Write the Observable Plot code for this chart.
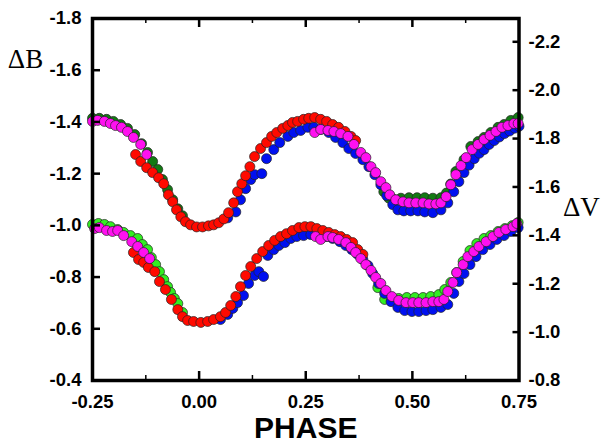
<!DOCTYPE html>
<html>
<head>
<meta charset="utf-8">
<script src="https://cdn.jsdelivr.net/npm/d3@7"></script>
<script src="https://cdn.jsdelivr.net/npm/@observablehq/plot@0.6"></script>
<style>
  html, body { margin: 0; padding: 0; background: #fff; }
</style>
</head>
<body>
<div id="chart"></div>
<script>
// ---------- Tick values ----------
const leftTicks = [-1.8, -1.6, -1.4, -1.2, -1.0, -0.8, -0.6, -0.4];
const rightTicks = [-2.2, -2.0, -1.8, -1.6, -1.4, -1.2, -1.0, -0.8];
const xLabelTicks = [-0.25, 0.00, 0.25, 0.50, 0.75];
const xMajorTicks = [0.00, 0.25, 0.50];
const xMinorTicks = [-0.125, 0.125, 0.375, 0.625];

// ---------- ΔB light curve (left axis) ----------
const phaseB_green = [-0.25,-0.234,-0.217,-0.201,-0.184,-0.168,-0.151,-0.135,-0.121,-0.109,-0.097,-0.086,-0.074,-0.062,-0.050,-0.039,
  0.433,0.445,0.457,0.473,0.492,0.511,0.529,0.548,0.567,0.580,0.590,0.602,0.621,0.637,0.654,0.668,0.684,0.701,0.715,0.731,0.748];
const magB_green = [-1.414,-1.414,-1.410,-1.402,-1.390,-1.375,-1.351,-1.316,-1.282,-1.247,-1.216,-1.177,-1.138,-1.099,-1.064,-1.037,
  -1.130,-1.105,-1.100,-1.105,-1.107,-1.107,-1.107,-1.105,-1.107,-1.125,-1.160,-1.208,-1.254,-1.305,-1.324,-1.340,-1.359,-1.379,-1.390,-1.406,-1.417];

const phaseB_blue = [0.067,0.086,0.097,0.109,0.121,0.130,0.147,0.158,0.175,0.189,0.208,0.222,0.238,0.255,0.269,0.285,0.304,0.320,0.337,0.351,0.367,0.384,0.398,0.412,0.426,0.440,0.454,0.466,0.480,0.496,0.513,0.529,0.548,0.567,
  0.583,0.597,0.609,0.621,0.633,0.645,0.657,0.668,0.680,0.692,0.704,0.716,0.728,0.740,0.750];
const magB_blue = [-1.029,-1.052,-1.099,-1.142,-1.177,-1.196,-1.200,-1.258,-1.293,-1.320,-1.344,-1.359,-1.367,-1.379,-1.379,-1.371,-1.359,-1.340,-1.320,-1.297,-1.278,-1.254,-1.227,-1.196,-1.157,-1.115,-1.080,-1.060,-1.056,-1.056,-1.056,-1.052,-1.049,-1.060,
  -1.087,-1.130,-1.169,-1.204,-1.233,-1.258,-1.279,-1.293,-1.313,-1.328,-1.342,-1.355,-1.365,-1.376,-1.383];

const phaseB_red = [-0.149,-0.137,-0.123,-0.109,-0.095,-0.083,-0.072,-0.062,-0.053,-0.043,-0.032,-0.020,-0.006,0.008,0.022,0.034,0.046,0.058,0.069,0.081,0.090,0.100,0.109,0.119,0.130,0.144,0.158,0.170,0.182,0.196,0.208,0.219,0.231,0.245,0.257,0.271,0.285,0.299,0.313,0.327,0.342,0.356,0.367];
const magB_red = [-1.274,-1.247,-1.223,-1.204,-1.184,-1.161,-1.118,-1.091,-1.060,-1.033,-1.014,-1.002,-0.994,-0.994,-0.998,-1.002,-1.010,-1.025,-1.049,-1.087,-1.130,-1.161,-1.192,-1.227,-1.266,-1.297,-1.320,-1.344,-1.359,-1.375,-1.386,-1.398,-1.402,-1.410,-1.414,-1.417,-1.410,-1.402,-1.390,-1.379,-1.363,-1.344,-1.328];

const phaseB_magenta = [-0.25,-0.238,-0.222,-0.208,-0.196,-0.182,-0.168,-0.154,-0.137,-0.123,
  0.271,0.285,0.302,0.316,0.332,0.349,0.363,0.379,0.391,0.403,0.414,0.426,0.438,0.447,0.461,0.478,0.492,0.508,0.525,0.539,0.555,0.567,0.579,0.590,0.602,0.614,0.626,0.640,0.654,0.668,0.682,0.696,0.710,0.724,0.738,0.748];
const magB_magenta = [-1.402,-1.406,-1.402,-1.394,-1.386,-1.379,-1.363,-1.340,-1.313,-1.274,
  -1.359,-1.371,-1.367,-1.363,-1.355,-1.344,-1.313,-1.282,-1.262,-1.227,-1.204,-1.169,-1.146,-1.118,-1.099,-1.091,-1.087,-1.087,-1.087,-1.083,-1.083,-1.087,-1.111,-1.157,-1.196,-1.231,-1.262,-1.293,-1.313,-1.332,-1.348,-1.363,-1.379,-1.386,-1.394,-1.394];

// ---------- ΔV light curve (right axis) ----------
const phaseV_green = [-0.25,-0.236,-0.222,-0.208,-0.191,-0.177,-0.161,-0.144,-0.133,-0.121,-0.112,-0.102,-0.093,-0.083,-0.074,-0.067,-0.058,-0.050,-0.039,
  0.419,0.435,0.452,0.468,0.487,0.506,0.525,0.543,0.562,0.576,0.590,0.604,0.619,0.635,0.651,0.668,0.684,0.701,0.717,0.734,0.748];
const magV_green = [-1.445,-1.449,-1.445,-1.436,-1.424,-1.412,-1.399,-1.387,-1.362,-1.341,-1.308,-1.279,-1.250,-1.217,-1.188,-1.164,-1.139,-1.118,-1.081,
  -1.184,-1.135,-1.131,-1.139,-1.143,-1.143,-1.143,-1.147,-1.155,-1.176,-1.205,-1.246,-1.292,-1.337,-1.366,-1.387,-1.399,-1.416,-1.428,-1.440,-1.453];

const phaseV_blue = [0.050,0.067,0.079,0.090,0.104,0.116,0.130,0.140,0.151,0.161,0.175,0.187,0.201,0.215,0.229,0.245,0.262,0.281,0.297,0.313,0.330,0.344,0.358,0.372,0.384,0.396,0.407,0.421,0.435,0.450,0.466,0.482,0.499,0.515,0.532,0.548,0.567,0.583,0.597,0.609,0.621,0.635,0.649,0.665,0.682,0.698,0.715,0.731,0.748];
const magV_blue = [-1.052,-1.073,-1.098,-1.122,-1.151,-1.201,-1.234,-1.250,-1.230,-1.317,-1.341,-1.358,-1.370,-1.387,-1.395,-1.399,-1.403,-1.399,-1.395,-1.387,-1.374,-1.358,-1.341,-1.321,-1.300,-1.275,-1.242,-1.201,-1.160,-1.126,-1.102,-1.089,-1.085,-1.085,-1.089,-1.093,-1.102,-1.114,-1.160,-1.209,-1.242,-1.279,-1.312,-1.341,-1.362,-1.383,-1.399,-1.416,-1.432];

const phaseV_red = [-0.154,-0.142,-0.130,-0.119,-0.104,-0.093,-0.079,-0.065,-0.050,-0.039,-0.027,-0.013,0.004,0.020,0.034,0.050,0.062,0.074,0.086,0.097,0.109,0.121,0.135,0.149,0.163,0.177,0.191,0.205,0.219,0.234,0.248,0.262,0.276,0.290,0.304,0.318,0.332,0.346,0.360,0.372,0.384];
const magV_red = [-1.329,-1.300,-1.288,-1.267,-1.250,-1.209,-1.176,-1.135,-1.093,-1.064,-1.048,-1.044,-1.040,-1.044,-1.052,-1.064,-1.081,-1.110,-1.147,-1.188,-1.234,-1.271,-1.304,-1.333,-1.358,-1.379,-1.395,-1.407,-1.420,-1.432,-1.436,-1.436,-1.428,-1.420,-1.412,-1.403,-1.395,-1.383,-1.370,-1.341,-1.321];

const phaseV_magenta = [-0.245,-0.234,-0.217,-0.203,-0.191,-0.177,-0.158,-0.144,-0.130,-0.116,
  0.273,0.285,0.302,0.313,0.327,0.344,0.356,0.367,0.379,0.391,0.403,0.414,0.426,0.438,0.452,0.468,0.485,0.501,0.515,0.532,0.548,0.562,0.574,0.583,0.595,0.604,0.619,0.630,0.644,0.656,0.673,0.689,0.703,0.719,0.736,0.745];
const magV_magenta = [-1.428,-1.432,-1.420,-1.416,-1.420,-1.399,-1.374,-1.354,-1.329,-1.304,
  -1.395,-1.383,-1.395,-1.391,-1.383,-1.370,-1.350,-1.329,-1.304,-1.279,-1.255,-1.226,-1.201,-1.172,-1.147,-1.131,-1.122,-1.122,-1.122,-1.122,-1.126,-1.126,-1.135,-1.168,-1.205,-1.246,-1.279,-1.312,-1.333,-1.354,-1.374,-1.395,-1.412,-1.424,-1.436,-1.449];

// ---------- Build tables ----------
const rows = (ph, mg) => ph.map((p, i) => ({phase: p, mag: mg[i]}));

// Right (ΔV) axis relation to the left (ΔB) axis: linear, -0.8 ↔ -0.4 at bottom
const leftDomain = [-0.4, -1.8];
const rightDomain = [-0.8, -2.2963];
const toLeft = v => leftDomain[0] + (v - rightDomain[0]) * (leftDomain[1] - leftDomain[0]) / (rightDomain[1] - rightDomain[0]);
const fromLeft = l => rightDomain[0] + (l - leftDomain[0]) * (rightDomain[1] - rightDomain[0]) / (leftDomain[1] - leftDomain[0]);

const seriesB = [
  {data: rows(phaseB_green, magB_green), color: "#137a13"},
  {data: rows(phaseB_blue, magB_blue), color: "#0010f0"},
  {data: rows(phaseB_red, magB_red), color: "#ff0a00"},
  {data: rows(phaseB_magenta, magB_magenta), color: "#ff10f0"}
];
const seriesV = [
  {data: rows(phaseV_green, magV_green), color: "#33ee22"},
  {data: rows(phaseV_blue, magV_blue), color: "#0010f0"},
  {data: rows(phaseV_red, magV_red), color: "#ff0a00"},
  {data: rows(phaseV_magenta, magV_magenta), color: "#ff10f0"}
];

const dotOpts = (color, yFn) => ({x: "phase", y: yFn, r: 5, fill: color, stroke: "#222", strokeWidth: 0.7});

const tickFont = {fontSize: 18.5, fontWeight: "bold"};

const chart = Plot.plot({
  width: 601,
  height: 444,
  marginLeft: 92,
  marginRight: 82.5,
  marginTop: 18,
  marginBottom: 64,
  style: {fontFamily: "'Liberation Sans', Arial, sans-serif", background: "white", color: "black"},
  x: {domain: [-0.25, 0.75]},
  y: {domain: leftDomain},
  marks: [
    // data: ΔV lower curve and ΔB upper curve
    ...seriesV.map(s => Plot.dot(s.data, dotOpts(s.color, d => toLeft(d.mag)))),
    ...seriesB.map(s => Plot.dot(s.data, dotOpts(s.color, "mag"))),
    // frame
    Plot.frame({stroke: "black", strokeWidth: 3.5}),
    // left axis
    Plot.axisY(leftTicks, {anchor: "left", tickSize: 0, tickPadding: 11, tickFormat: d => d.toFixed(1), label: null, ...tickFont}),
    Plot.axisY(leftTicks.slice(1, -1), {anchor: "left", tickSize: -8, fill: "none", strokeWidth: 2.5, label: null}),
    // right axis (ΔV)
    Plot.axisY(rightTicks.map(toLeft), {anchor: "right", tickSize: 0, tickPadding: 9.5, tickFormat: d => fromLeft(d).toFixed(1), label: null, ...tickFont}),
    Plot.axisY(rightTicks.slice(0, -1).map(toLeft), {anchor: "right", tickSize: -7, fill: "none", strokeWidth: 2.5, label: null}),
    // bottom axis
    Plot.axisX(xLabelTicks, {anchor: "bottom", tickSize: 0, tickPadding: 14.5, tickFormat: d => d.toFixed(2), label: null, ...tickFont}),
    Plot.axisX(xMajorTicks, {anchor: "bottom", tickSize: -9, fill: "none", strokeWidth: 2.5, label: null}),
    Plot.axisX(xMinorTicks, {anchor: "bottom", tickSize: -5, fill: "none", strokeWidth: 1.5, label: null}),
    // top axis (ticks only)
    Plot.axisX(xMajorTicks, {anchor: "top", tickSize: -8, fill: "none", strokeWidth: 2.5, label: null}),
    Plot.axisX(xMinorTicks, {anchor: "top", tickSize: -4, fill: "none", strokeWidth: 1.5, label: null}),
    // titles
    Plot.text(["PHASE"], {frameAnchor: "bottom", dy: 48, lineAnchor: "middle", fontSize: 30, fontWeight: "bold", fill: "black"}),
    Plot.text(["ΔB"], {frameAnchor: "top-left", dx: -67, dy: 41, lineAnchor: "middle", textAnchor: "middle", fontSize: 27, fontFamily: "'Liberation Serif', 'Times New Roman', serif", fill: "black"}),
    Plot.text(["ΔV"], {frameAnchor: "top-right", dx: 44, dy: 188.5, lineAnchor: "middle", textAnchor: "start", fontSize: 27, fontFamily: "'Liberation Serif', 'Times New Roman', serif", fill: "black"})
  ]
});

document.getElementById("chart").appendChild(chart);
</script>
</body>
</html>
